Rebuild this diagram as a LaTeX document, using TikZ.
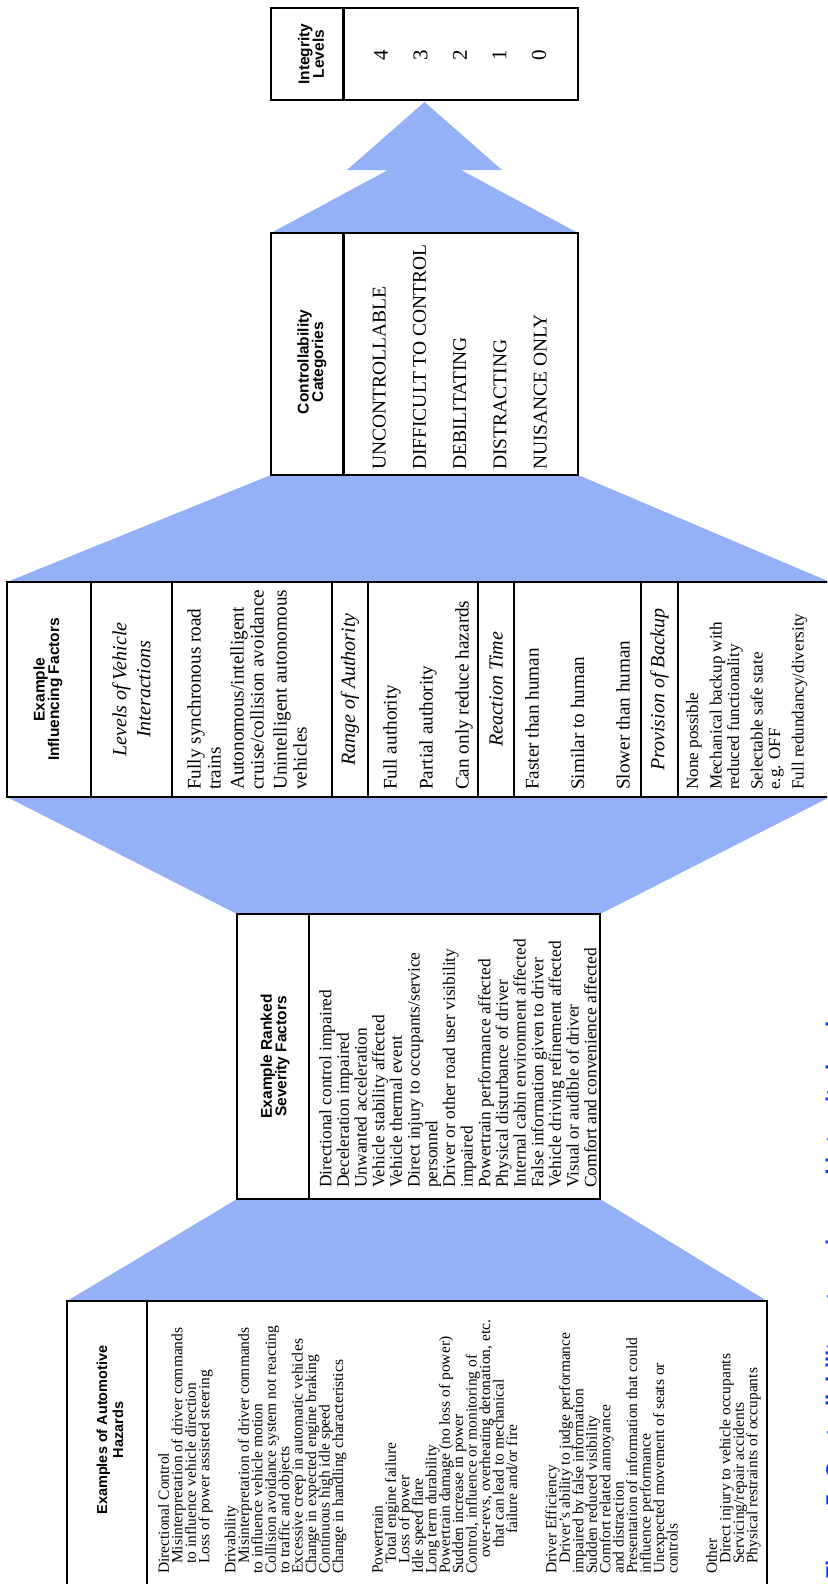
\documentclass[tikz,border=0pt]{standalone}
\usepackage{fontspec}
\setmainfont{Liberation Serif}
\setsansfont{Liberation Sans}
\usetikzlibrary{calc}
\definecolor{hazblue}{RGB}{148,176,246}
\definecolor{capblue}{RGB}{0,51,255}
\lineskiplimit=-100pt
\begin{document}
\begin{tikzpicture}[x=1pt,y=-1pt,
  boxarea/.style={rectangle,fill=white,inner sep=0pt,outer sep=0pt},
  boxline/.style={draw=black,line width=2.5pt},
  hdr/.style={rotate=90,anchor=center,align=center,inner sep=0pt,font=\sffamily\bfseries\fontsize{15.5}{14.5}\selectfont},
  colhead/.style={rotate=90,anchor=center,align=center,inner sep=0pt,font=\itshape\fontsize{20}{24}\selectfont},
  txt/.style={rotate=90,anchor=north west,align=left,inner sep=0pt},
]
\useasboundingbox (0,0) rectangle (827,1584);
\clip (0,0) rectangle (827,1584);

% box areas
\node[boxarea, minimum width=307pt, minimum height=92pt]  (integ) at (424.5,54) {};
\node[boxarea, minimum width=307pt, minimum height=242pt] (ctrl)  at (424.5,354) {};
\node[boxarea, minimum width=823pt, minimum height=215pt] (infl)  at (418.5,689.5) {};
\node[boxarea, minimum width=363pt, minimum height=285pt] (sev)   at (418.5,1056.5) {};
\node[boxarea, minimum width=700pt, minimum height=319pt] (haz)   at (417,1460.5) {};

% blue funnels
\fill[hazblue] (haz.north west) -- (sev.south west) -- (sev.south east) -- (haz.north east) -- cycle;
\fill[hazblue] (sev.north west) -- (infl.south west) -- (infl.south east) -- (sev.north east) -- cycle;
\fill[hazblue] (infl.north west) -- (ctrl.south west) -- (ctrl.south east) -- (infl.north east) -- cycle;
\coordinate (tip) at ($(integ.south)+(0,2)$);
\coordinate (neckL) at (388,170);
\coordinate (neckR) at (461,170);
\coordinate (baseL) at (347,170);
\coordinate (baseR) at (502,170);
\fill[hazblue] (ctrl.north west) -- (neckL) -- (baseL) -- (tip) -- (baseR) -- (neckR) -- (ctrl.north east) -- cycle;

% Integrity levels
\node[hdr] (ilh) at (311,54) {Integrity\\Levels};
\node[rotate=90,anchor=center,align=center,inner sep=0pt,font=\fontsize{21}{39.5}\selectfont] (ilv) at (460,55) {4\\3\\2\\1\\0};

% Controllability
\node[hdr] (cch) at (312,362) {Controllability\\Categories};
\node[txt,font=\fontsize{19.5}{40.25}\selectfont] (ccl) at (372.5,470) {UNCONTROLLABLE\\DIFFICULT TO CONTROL\\DEBILITATING\\DISTRACTING\\NUISANCE ONLY};

% Influencing factors
\node[hdr] (ifh) at (48,689.5) {Example\\Influencing Factors};
\node[colhead] (vih) at (131.5,689.5) {Levels of Vehicle\\Interactions};
\node[txt,font=\fontsize{19.2}{20}\selectfont] (vil) at (187,790) {Fully synchronous road\\trains\\[3pt]Autonomous/intelligent\\cruise/collision avoidance\\[3pt]Unintelligent autonomous\\vehicles};
\node[colhead] (rah) at (350,689.5) {Range of Authority};
\node[txt,font=\fontsize{19.2}{36}\selectfont] (ral) at (383,790) {Full authority\\Partial authority\\Can only reduce hazards};
\node[colhead] (rth) at (496,689.5) {Reaction Time};
\node[txt,font=\fontsize{19.2}{45.5}\selectfont] (rtl) at (525,790) {Faster than human\\Similar to human\\Slower than human};
\node[colhead] (pbh) at (659.5,689.5) {Provision of Backup};
\node[txt,font=\fontsize{17.1}{17.5}\selectfont] (pbl) at (686,790) {None possible\\[6pt]Mechanical backup with\\reduced functionality\\[6pt]Selectable safe state\\e.g. OFF\\[6pt]Full redundancy/diversity};

% Severity factors
\node[hdr] (sfh) at (275,1056.5) {Example Ranked\\Severity Factors};
\node[txt,font=\fontsize{17.4}{17.67}\selectfont] (sfl) at (319,1188) {Directional control impaired\\Deceleration impaired\\Unwanted acceleration\\Vehicle stability affected\\Vehicle thermal event\\Direct injury to occupants/service\\personnel\\Driver or other road user visibility\\impaired\\Powertrain performance affected\\Physical disturbance of driver\\Internal cabin environment affected\\False information given to driver\\Vehicle driving refinement affected\\Visual or audible of driver\\Comfort and convenience affected};

% Hazards
\node[hdr,font=\sffamily\bfseries\fontsize{14.5}{16}\selectfont] (hzh) at (110,1430) {Examples of Automotive\\Hazards};
\node[txt,font=\fontsize{15.5}{13.45}\selectfont] (hzl) at (158,1574) {Directional Control\\
\hspace*{10pt}Misinterpretation of driver commands\\
\hspace*{10pt}to influence vehicle direction\\
\hspace*{10pt}Loss of power assisted steering\\[12.7pt]
Drivability\\
\hspace*{10pt}Misinterpretation of driver commands\\
to influence vehicle motion\\
Collision avoidance system not reacting\\
to traffic and objects\\
Excessive creep in automatic vehicles\\
Change in expected engine braking\\
Continuous high idle speed\\
Change in handling characteristics\\[26pt]
Powertrain\\
\hspace*{10pt}Total engine failure\\
\hspace*{10pt}Loss of power\\
Idle speed flare\\
Long term durability\\
Powertrain damage (no loss of power)\\
Sudden increase in power\\
Control, influence or monitoring of\\
\hspace*{16pt}over-revs, overheating detonation, etc.\\
\hspace*{26pt}that can lead to mechanical\\
\hspace*{40pt}failure and/or fire\\[26pt]
Driver Efficiency\\
\hspace*{10pt}Driver's ability to judge performance\\
impaired by false information\\
Sudden reduced visibility\\
Comfort related annoyance\\
and distraction\\
Presentation of information that could\\
influence performance\\
Unexpected movement of seats or\\
controls\\[26pt]
Other\\
\hspace*{10pt}Direct injury to vehicle occupants\\
\hspace*{10pt}Servicing/repair accidents\\
\hspace*{10pt}Physical restraints of occupants};

% cut-off caption at the right edge
\node[txt,font=\sffamily\bfseries\fontsize{22}{24}\selectfont,text=capblue] (cap) at (825.5,1580) {Figure 5: Controllability categories and integrity levels};

% borders and dividers
\foreach \b in {integ,ctrl,infl,sev,haz} {
  \draw[boxline] (\b.north west) rectangle (\b.south east);
}
\draw[boxline] ($(integ.north west)+(72.5,0)$) -- ($(integ.south west)+(72.5,0)$);
\draw[boxline] ($(ctrl.north west)+(72.5,0)$) -- ($(ctrl.south west)+(72.5,0)$);
\foreach \d in {84,165,325,361,471,507,634,671} {
  \draw[boxline] ($(infl.north west)+(\d,0)$) -- ($(infl.south west)+(\d,0)$);
}
\draw[boxline] ($(sev.north west)+(72,0)$) -- ($(sev.south west)+(72,0)$);
\draw[boxline] ($(haz.north west)+(80,0)$) -- ($(haz.south west)+(80,0)$);
\end{tikzpicture}
\end{document}
